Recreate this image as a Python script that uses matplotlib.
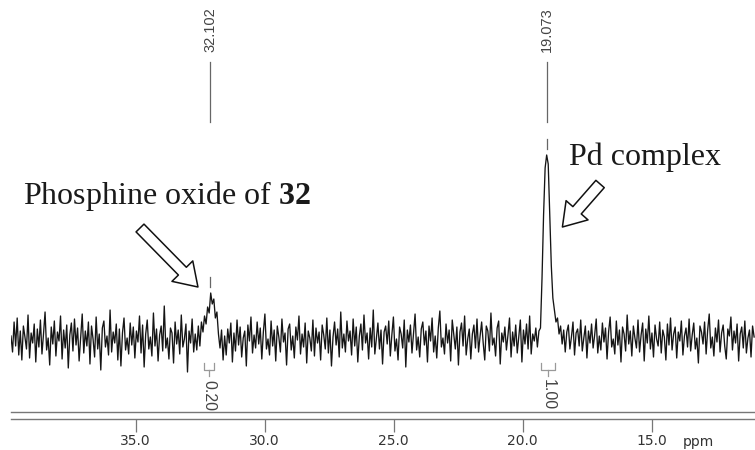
import matplotlib
matplotlib.use('Agg')
import matplotlib.pyplot as plt
import matplotlib.transforms as mtransforms
import numpy as np
from matplotlib import font_manager

# 31P spectrum, values (intensity in arbitrary units)
ppm_start = 39.83
ppm_step = 0.06
intensity = [
    4, -12, 18, -6, 22, -15, 9, -20, 14, 3, -9, 25, -18, 7, -3, 16, -22, 11, -7, 20,
    -14, 6, 28, -10, 2, -25, 13, -4, 19, -16, 8, -1, 24, -19, 10, -8, 15, -28, 5, 17,
    -11, 21, -5, 12, -21, 3, 26, -13, 9, -6, 18, -24, 14, 1, -17, 23, -9, 6, -30, 12,
    19, -7, 4, -15, 30, -12, 8, -3, 16, -20, 11, -26, 7, 22, -10, 2, -14, 17, -5, 13,
    -18, 9, -2, 24, -13, 15, -27, 6, 20, -9, 3, -16, 27, -6, 11, -21, 5, 14, -11, 34,
    -8, 2, -19, 12, 7, -23, 18, -4, 10, -14, 25, -7, 1, 16, -32, 9, -3, 21, -12, 6,
    -10, 14, -6, 18, 8, 24, 16, 33, 27, 47, 36, 41, 22, 28, 6, -8, 10, -20, 4, -15,
    11, -3, 17, -22, 7, -11, 20, -5, 13, -17, 2, 9, -26, 15, -1, 23, -13, 5, -8, 18,
    -4, 12, -19, 8, 26, -9, 1, -15, 19, -6, 10, -21, 14, 3, -12, 21, -2, 7, -25, 11,
    16, -10, 4, -18, 13, 0, 24, -14, 6, -7, 17, -23, 9, 2, -11, 20, -16, 12, -3, 8,
    -20, 15, 5, -9, 22, -13, 10, -26, 3, 18, -5, 11, -17, 28, -8, 6, -12, 19, -1, 9,
    -15, 21, -6, 13, -22, 4, 16, -10, 25, -3, 7, -19, 12, -7, 30, -14, 2, 17, -9, 10,
    -24, 8, 14, -4, 19, -16, 5, 23, -11, 1, -20, 13, 6, -8, 20, -27, 10, -2, 15, -13,
    7, 26, -10, 3, -17, 11, 18, -5, 9, -22, 14, -1, 22, -12, 4, -18, 12, 29, -7, 2,
    -14, 16, -3, 10, -21, 20, 5, -9, 13, -25, 8, 17, -6, 24, -15, 1, 11, -19, 6, 15,
    -8, 21, -12, 4, 18, -3, -20, 14, 9, -11, 27, -5, 2, -16, 12, 19, -24, 7, -2, 13,
    -10, 5, 22, -17, 8, -6, 15, -13, 3, 20, -22, 10, -4, 16, -9, 24, -14, 6, -1, 12,
    -7, 9, 12, 62, 125, 172, 185, 176, 124, 74, 42, 30, 18, 22, 6, 14, -4, 10, -12, 8,
    15, -9, 3, 18, -15, 7, 11, -6, 20, -11, 2, 14, -18, 9, -3, 16, -8, 5, 21, -13,
    4, -10, 17, -2, 12, -19, 8, 23, -7, 1, -14, 19, -5, 10, -22, 13, 6, -11, 25, -4,
    9, -16, 14, 2, -8, 20, -12, 5, 17, -21, 11, -3, 24, -9, 7, -17, 15, 1, -6, 18,
    -13, 10, 3, -20, 16, -5, 22, -10, 6, 13, -18, 8, -1, 19, -15, 4, 12, -7, 21, -11,
    5, 17, -9, 2, -23, 14, 8, -4, 18, -14, 10, 26, -8, 3, -16, 12, -2, 20, -12, 7,
    15, -6, -19, 11, 4, 23, -10, 9, -3, 16, -21, 6, 13, -8, 19, -13, 2, 10, -17, 14,
    3,
]
peak_ppm = [32.102, 19.073]
peak_labels = ['32.102', '19.073']
integral_ranges = [(32.35, 31.96), (19.30, 18.75)]
integral_values = ['0.20', '1.00']
tick_ppm = [35.0, 30.0, 25.0, 20.0, 15.0]
tick_labels = ['35.0', '30.0', '25.0', '20.0', '15.0']

ppm = ppm_start - ppm_step * np.arange(len(intensity))
intensity = np.array(intensity, dtype=float)

names = {f.name for f in font_manager.fontManager.ttflist}
narrow = 'Liberation Sans Narrow' if 'Liberation Sans Narrow' in names else 'Liberation Sans'

plt.rcParams['mathtext.fontset'] = 'custom'
plt.rcParams['mathtext.rm'] = 'Liberation Serif'
plt.rcParams['mathtext.bf'] = 'Liberation Serif:bold'

W, H = 755, 450
fig = plt.figure(figsize=(W / 100, H / 100), dpi=100)
xlim = (39.83, 10.996)

# spectrum panel
ax = fig.add_axes([11 / W, 0, 744 / W, 1])
ax.set_xlim(xlim)
ax.set_ylim(-110, 340)
ax.axis('off')
ax.plot(ppm, intensity, color='#151515', lw=0.95)

# peak picking marks
for p, lab in zip(peak_ppm, peak_labels):
    i = np.argmin(np.abs(ppm - p))
    top = intensity[max(i - 3, 0):i + 4].max()
    ax.plot([p, p], [218, 278], color='#666666', lw=0.9)
    ax.plot([p, p], [top + 6, top + 16], color='#666666', lw=0.9)
    ax.text(p, 310, lab, rotation=90, ha='center', va='center',
            fontsize=10.5, family=narrow, color='#444444')

# integrals
for (a, b), val in zip(integral_ranges, integral_values):
    mid = (a + b) / 2
    ax.plot([a, a, b, b], [-23, -30, -30, -23], color='#999999', lw=0.9)
    ax.plot([mid, mid], [-30, -36], color='#999999', lw=0.9)
    ax.text(mid, -55, val, rotation=270, ha='center', va='center',
            fontsize=11.5, family=narrow, color='#444444')

# annotations
ax.text(39.37, 136, r'Phosphine oxide of $\mathbf{32}$', family='Liberation Serif',
        fontsize=23, ha='left', va='baseline', color='#1a1a1a')
ax.text(18.19, 175, 'Pd complex', family='Liberation Serif',
        fontsize=23, ha='left', va='baseline', color='#1a1a1a')
arrow = dict(arrowstyle='simple,head_length=1.6,head_width=2.1,tail_width=0.8',
             mutation_scale=10, fc='white', ec='#111111', lw=1.1,
             shrinkA=0, shrinkB=0)
ax.annotate('', xy=(32.585, 53), xytext=(34.83, 112), arrowprops=arrow)
ax.annotate('', xy=(18.46, 113), xytext=(17.0, 156), arrowprops=arrow)

# ppm scale
sc = fig.add_axes([11 / W, 31 / H, 744 / W, 7 / H])
sc.set_xlim(xlim)
sc.set_yticks([])
sc.patch.set_visible(False)
for side in ('left', 'right'):
    sc.spines[side].set_visible(False)
for side in ('top', 'bottom'):
    sc.spines[side].set_color('#777777')
    sc.spines[side].set_linewidth(1.0)
sc.set_xticks(tick_ppm)
sc.set_xticklabels(tick_labels)
sc.tick_params(axis='x', direction='out', length=9.0, width=0.9, color='#777777',
               pad=2.0, labelsize=10, labelcolor='#333333')
tr = mtransforms.blended_transform_factory(sc.transData, sc.transAxes)
sc.text(13.79, -3.86, 'ppm', transform=tr, ha='left', va='baseline',
        fontsize=10, color='#333333')

fig.savefig('out.png', dpi=100)
